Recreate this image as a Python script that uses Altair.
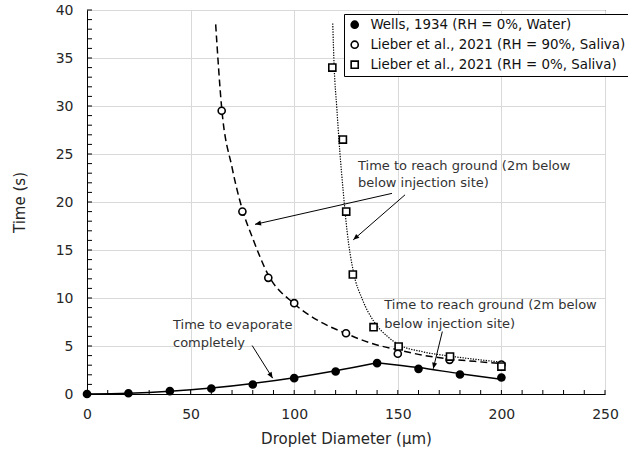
import math
import altair as alt
import pandas as pd

# ---------------- data ----------------
S1 = "Wells, 1934 (RH = 0%, Water)"
S2 = "Lieber et al., 2021 (RH = 90%, Saliva)"
S3 = "Lieber et al., 2021 (RH = 0%, Saliva)"
series_names = [S1, S2, S3]

wells_d = [0, 20, 40, 60, 80, 100, 120, 140, 160, 180, 200]
wells_t = [0, 0.08, 0.30, 0.57, 0.99, 1.65, 2.34, 3.21, 2.62, 2.03, 1.72]

rh90_d = [65, 75, 87.5, 100, 125, 150, 175, 200]
rh90_t = [29.5, 19.0, 12.1, 9.46, 6.33, 4.19, 3.56, 3.07]

rh0_d = [118.4, 123.5, 125.1, 128.3, 138.3, 150.4, 175.2, 200]
rh0_t = [34.0, 26.5, 19.0, 12.45, 6.96, 4.95, 3.9, 2.86]

# trend curves
evap_rise_d = [0, 20, 40, 60, 80, 100, 120, 140]
evap_rise_t = [0, 0.07, 0.28, 0.62, 1.1, 1.7, 2.42, 3.26]
evap_fall_d = [140, 160, 180, 201.6]
evap_fall_t = [3.26, 2.75, 2.12, 1.48]

rh90_fit_d = [62.1, 65, 70, 75, 80, 87.5, 100, 112, 125, 137, 150, 162, 175, 187, 201]
rh90_fit_t = [38.5, 29.8, 23.6, 19.2, 16.2, 12.4, 9.4, 7.6, 6.3, 5.3, 4.6, 4.05, 3.65, 3.4, 3.15]

rh0_fit_d = [118.6, 119.3, 120.5, 122, 123.7, 125.5, 128.5, 133, 138.3, 145, 150, 162, 175, 188, 201]
rh0_fit_t = [38.6, 34.0, 30.0, 25.3, 21.0, 17.0, 12.8, 9.8, 7.6, 6.0, 5.2, 4.4, 3.95, 3.6, 3.3]

# annotations (data units)
ann_text = ["Time to evaporate", "completely",
            "Time to reach ground (2m below", "below injection site)",
            "Time to reach ground (2m below", "below injection site)"]
ann_d = [41.5, 41.5, 130.8, 130.8, 143.5, 143.5]
ann_t = [7.14, 5.36, 23.7, 21.95, 9.22, 7.31]

arrow_d0 = [79.7, 147.2, 153.5, 171.5]
arrow_t0 = [5.05, 20.9, 20.75, 6.51]
arrow_d1 = [89.6, 81.1, 128.5, 167.1]
arrow_t1 = [1.65, 17.67, 16.06, 2.63]

x_ticks = [0, 50, 100, 150, 200, 250]
y_ticks = [0, 5, 10, 15, 20, 25, 30, 35, 40]
x_minor = list(range(0, 251, 10))
y_minor = list(range(0, 41, 1))

# ---------------- layout ----------------
W, H = 518, 384
FONT = "DejaVu Sans"
px_x = W / 250.0
px_y = H / 40.0

xs = alt.Scale(domain=[0, 250], nice=False, zero=False)
ys = alt.Scale(domain=[0, 40], nice=False, zero=False)
xaxis = alt.Axis(values=x_ticks, ticks=False, tickSize=0, labelPadding=13, grid=True,
                 labelFlush=False, labelOverlap=False,
                 title="Droplet Diameter (\u03bcm)", titlePadding=10)
yaxis = alt.Axis(values=y_ticks, ticks=False, tickSize=0, labelPadding=14, grid=True,
                 labelFlush=False, labelOverlap=False,
                 title="Time (s)", titlePadding=28)


def X(f="d"):
    return alt.X(f"{f}:Q", scale=xs, axis=xaxis, title="Droplet Diameter (\u03bcm)")


def Y(f="t"):
    return alt.Y(f"{f}:Q", scale=ys, axis=yaxis, title="Time (s)")


pts = pd.DataFrame({
    "d": wells_d + rh90_d + rh0_d,
    "t": wells_t + rh90_t + rh0_t,
    "s": [S1] * len(wells_d) + [S2] * len(rh90_d) + [S3] * len(rh0_d),
})

evap = pd.DataFrame({
    "d": evap_rise_d + evap_fall_d,
    "t": evap_rise_t + evap_fall_t,
    "seg": ["a"] * len(evap_rise_d) + ["b"] * len(evap_fall_d),
})
fit90 = pd.DataFrame({"d": rh90_fit_d, "t": rh90_fit_t})
fit0 = pd.DataFrame({"d": rh0_fit_d, "t": rh0_fit_t})

ann = pd.DataFrame({"d": ann_d, "t": ann_t, "txt": ann_text})

arrows = pd.DataFrame({"d": arrow_d0, "t": arrow_t0, "d2": arrow_d1, "t2": arrow_t1})
angs = []
for a, b, c, e in zip(arrow_d0, arrow_t0, arrow_d1, arrow_t1):
    dx = (c - a) * px_x
    dy = -(e - b) * px_y
    angs.append(math.degrees(math.atan2(dx, -dy)) % 360)
heads = pd.DataFrame({"d": arrow_d1, "t": arrow_t1, "ang": angs})

xmin_df = pd.DataFrame({"d": x_minor})
ymin_df = pd.DataFrame({"t": y_minor})

# ---------------- layers ----------------
xtick_layer = alt.Chart(xmin_df).mark_rule(color="black", strokeWidth=1).encode(
    x=X(), y=alt.value(H), y2=alt.value(H - 4))
ytick_layer = alt.Chart(ymin_df).mark_rule(color="black", strokeWidth=1).encode(
    y=Y(), x=alt.value(0), x2=alt.value(5))

evap_line = alt.Chart(evap).mark_line(color="black", strokeWidth=1.5, interpolate="monotone").encode(
    x=X(), y=Y(), detail="seg:N")
fit90_line = alt.Chart(fit90).mark_line(color="black", strokeWidth=1.5, strokeDash=[7, 4],
                                        interpolate="monotone").encode(x=X(), y=Y())
fit0_line = alt.Chart(fit0).mark_line(color="black", strokeWidth=1.2, strokeDash=[1.3, 1.3],
                                      interpolate="monotone").encode(x=X(), y=Y())

leg = alt.Legend(title=None, orient="none", legendX=257, legendY=4)
point_layer = alt.Chart(pts).mark_point(filled=True, size=50, strokeWidth=1.6,
                                        opacity=1).encode(
    x=X(), y=Y(),
    shape=alt.Shape("s:N", scale=alt.Scale(domain=series_names, range=["circle", "circle", "square"]),
                    legend=leg, sort=series_names),
    fill=alt.Fill("s:N", scale=alt.Scale(domain=series_names, range=["black", "white", "white"]),
                  legend=leg, sort=series_names),
    stroke=alt.Stroke("s:N", scale=alt.Scale(domain=series_names, range=["black", "black", "black"]),
                      legend=leg, sort=series_names),
)

arrow_lines = alt.Chart(arrows).mark_rule(color="black", strokeWidth=1).encode(
    x=X(), y=Y(), x2="d2:Q", y2="t2:Q")
arrow_heads = alt.Chart(heads).mark_point(shape="M0,0L-0.42,1L0.42,1Z", size=144, filled=True,
                                          color="black", opacity=1).encode(
    x=X(), y=Y(), angle=alt.Angle("ang:Q", scale=None))

ann_layer = alt.Chart(ann).mark_text(align="left", baseline="middle", font=FONT, fontSize=13,
                                     color="#333333").encode(x=X(), y=Y(), text="txt:N")

chart = alt.layer(
    xtick_layer, ytick_layer, evap_line, fit90_line, fit0_line, arrow_lines, arrow_heads,
    ann_layer, point_layer
).properties(
    width=W, height=H,
    autosize=alt.AutoSizeParams(type="none"),
    padding={"left": 87, "top": 10, "right": 23, "bottom": 65},
).configure_view(
    stroke="black", strokeWidth=1
).configure_axis(
    gridColor="#d9d9d9", gridWidth=1, domainColor="black", domainWidth=1,
    labelFont=FONT, labelFontSize=14, labelColor="#262626",
    titleFont=FONT, titleFontSize=15, titleColor="#262626", titleFontWeight="normal",
).configure_legend(
    fillColor="white", strokeColor="black", padding=4, cornerRadius=0,
    symbolSize=50, symbolStrokeWidth=1.6,
    labelFont=FONT, labelFontSize=13.4, labelColor="#111111", labelOffset=9,
    rowPadding=5, labelLimit=0, symbolOpacity=1,
)

chart.save("out.html", embed_options={"renderer": "svg", "actions": False})
